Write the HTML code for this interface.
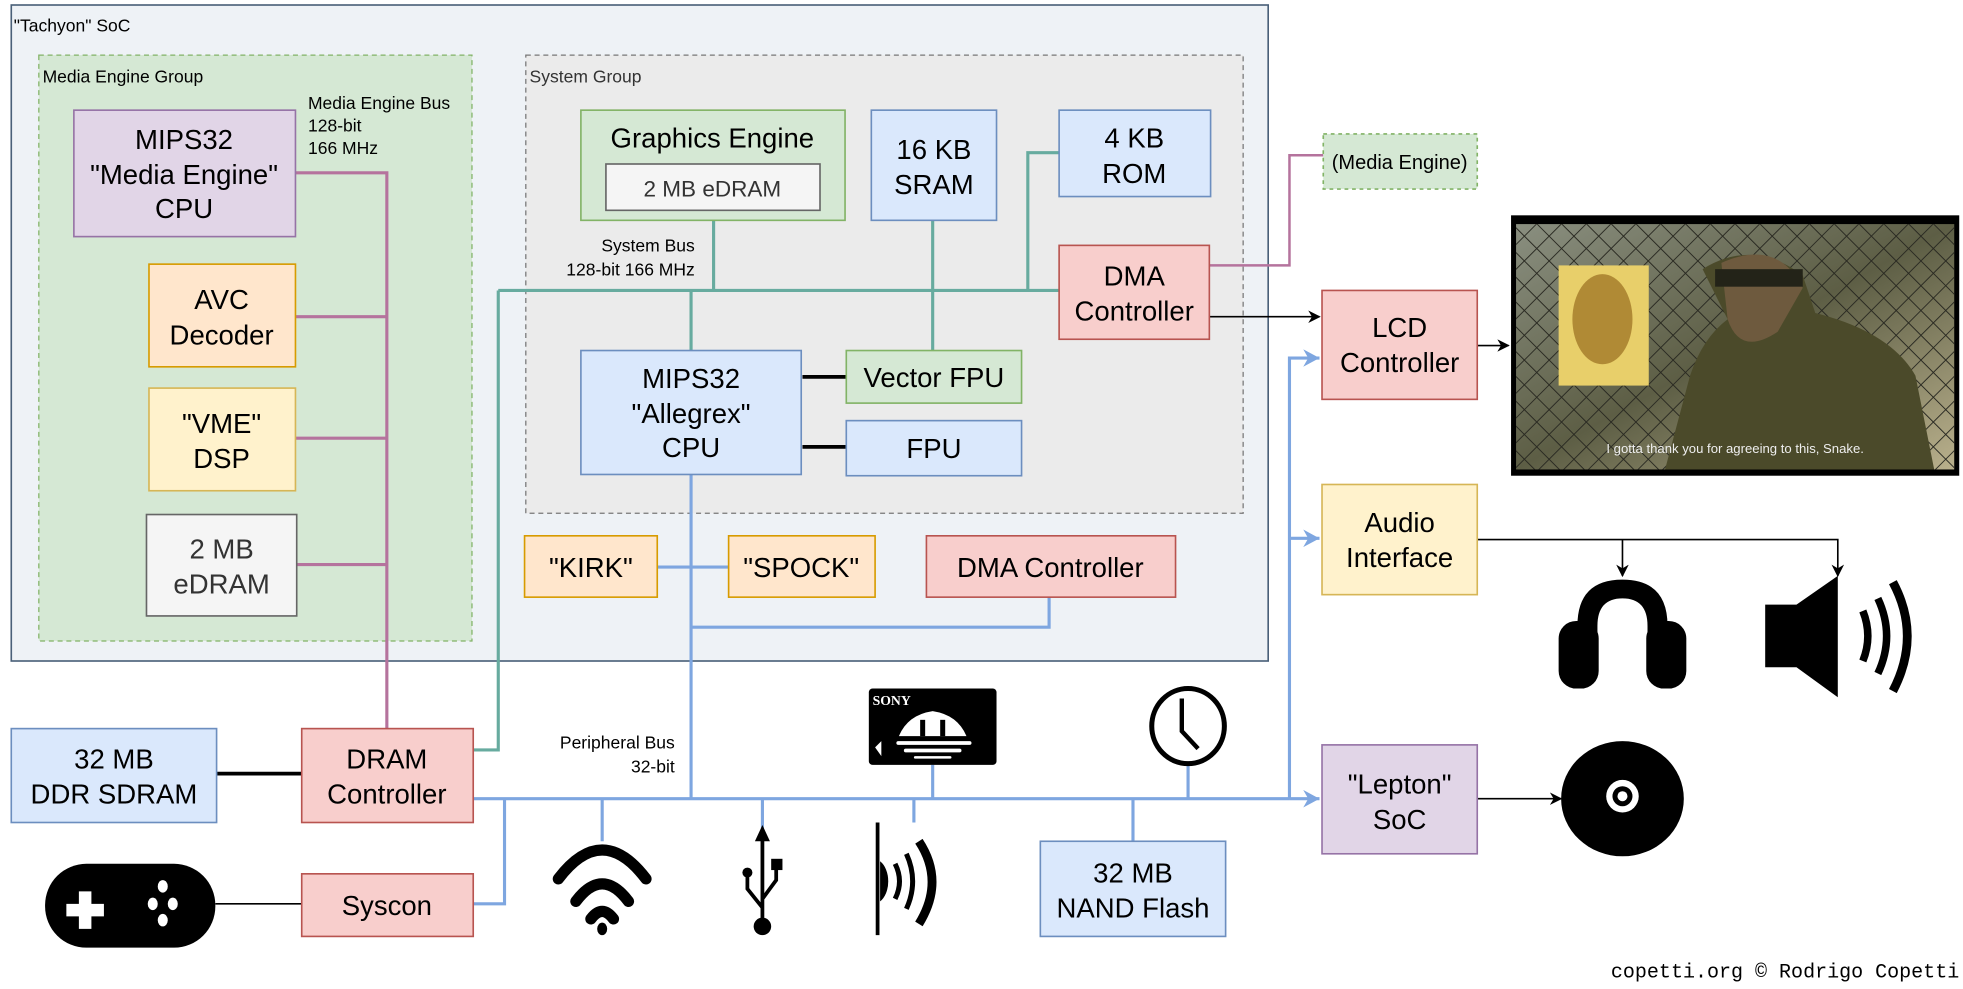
<!DOCTYPE html>
<html><head><meta charset="utf-8"><style>
html,body{margin:0;padding:0;background:#fff;width:1963px;height:989px;overflow:hidden}
svg{display:block}
text{font-family:"Liberation Sans",sans-serif;fill:#000}
.b{font-size:22px;text-anchor:middle}
.s{font-size:14px}
</style></head><body>
<svg width="1963" height="989" viewBox="0 0 1568 790" xmlns="http://www.w3.org/2000/svg">
<defs>
<marker id="ab" markerWidth="10" markerHeight="10" refX="9" refY="5" orient="auto" markerUnits="userSpaceOnUse"><path d="M0,0 L10,5 L0,10 L3,5Z" fill="#000"/></marker>
<marker id="abl" markerWidth="14" markerHeight="14" refX="13" refY="7" orient="auto" markerUnits="userSpaceOnUse"><path d="M0,0 L13,7 L0,14 L4,7Z" fill="#7ea6e0"/></marker>
<linearGradient id="scr" x1="0" y1="0" x2="1" y2="1"><stop offset="0" stop-color="#8a8f80"/><stop offset="0.5" stop-color="#5d5e45"/><stop offset="1" stop-color="#b9b08c"/></linearGradient>
<pattern id="fence" width="14" height="14" patternUnits="userSpaceOnUse" patternTransform="rotate(45)"><rect width="14" height="14" fill="none"/><path d="M0,0 H14 M0,0 V14" stroke="#2a2a22" stroke-width="1.5"/></pattern>
</defs>

<rect x="9" y="4" width="1004" height="524" fill="#eef2f6" stroke="#4a6079" stroke-width="1.3"/>
<text x="11" y="25" class="s">"Tachyon" SoC</text>

<rect x="31" y="44" width="346" height="468" fill="#d5e8d4" stroke="#82b366" stroke-dasharray="4 3"/>
<text x="34" y="66" class="s">Media Engine Group</text>
<rect x="420" y="44" width="573" height="366" fill="#ebebeb" stroke="#777" stroke-dasharray="4 3"/>
<text x="423" y="66" class="s" style="fill:#333">System Group</text>

<g stroke="#b5739d" stroke-width="2.5" fill="none">
<path d="M236,138 H309 V582"/>
<path d="M236,253 H309 M236,350 H309 M237,451 H309"/>
<path d="M966,212 H1030 V124 H1057" stroke-width="2"/>
</g>
<text x="246" y="87" class="s">Media Engine Bus</text>
<text x="246" y="105" class="s">128-bit</text>
<text x="246" y="123" class="s">166 MHz</text>

<g stroke="#67ab9f" stroke-width="2.5" fill="none">
<path d="M398,232 H846"/>
<path d="M570,176 V232 M745,176 V280 M552,232 V280 M821,232 V122 H846"/>
<path d="M398,232 V599 H378"/>
</g>
<text x="555" y="201" class="s" text-anchor="end">System Bus</text>
<text x="555" y="220" class="s" text-anchor="end">128-bit 166 MHz</text>

<g stroke="#7ea6e0" stroke-width="2.5" fill="none">
<path d="M525,453 H582"/>
<path d="M552,379 V638"/>
<path d="M838,477 V501 H552"/>
<path d="M378,638 H1030"/>
<path d="M1030,638 H1054" marker-end="url(#abl)"/>
<path d="M1030,638 V286 H1054" marker-end="url(#abl)"/>
<path d="M1030,430 H1054" marker-end="url(#abl)"/>
<path d="M403,638 V722 H378"/>
<path d="M481,638 V672 M609,638 V663 M730,638 V657 M745,611 V638 M949,610 V638 M905,638 V672"/>
</g>
<text x="539" y="598" class="s" text-anchor="end">Peripheral Bus</text>
<text x="539" y="617" class="s" text-anchor="end">32-bit</text>

<g stroke="#000" fill="none">
<path d="M641,301 H676 M641,357 H676 M173,618 H241" stroke-width="3"/>
<path d="M172,722 H241" stroke-width="1.3"/>
<path d="M966,253 H1054" stroke-width="1.3" marker-end="url(#ab)"/>
<path d="M1180,276 H1205" stroke-width="1.3" marker-end="url(#ab)"/>
<path d="M1180,638 H1247" stroke-width="1.3" marker-end="url(#ab)"/>
<path d="M1180,431 H1468 V460" stroke-width="1.3" marker-end="url(#ab)"/>
<path d="M1296,431 V460" stroke-width="1.3" marker-end="url(#ab)"/>
</g>

<g stroke-width="1.3">
<rect x="59" y="88" width="177" height="101" fill="#e1d5e7" stroke="#9673a6"/>
<rect x="119" y="211" width="117" height="82" fill="#ffe6cc" stroke="#d79b00"/>
<rect x="119" y="310" width="117" height="82" fill="#fff2cc" stroke="#d6b656"/>
<rect x="117" y="411" width="120" height="81" fill="#f5f5f5" stroke="#666"/>
<rect x="464" y="88" width="211" height="88" fill="#d5e8d4" stroke="#82b366"/>
<rect x="484" y="131" width="171" height="37" fill="#f5f5f5" stroke="#666"/>
<rect x="696" y="88" width="100" height="88" fill="#dae8fc" stroke="#6c8ebf"/>
<rect x="846" y="88" width="121" height="69" fill="#dae8fc" stroke="#6c8ebf"/>
<rect x="846" y="196" width="120" height="75" fill="#f8cecc" stroke="#b85450"/>
<rect x="676" y="280" width="140" height="42" fill="#d5e8d4" stroke="#82b366"/>
<rect x="676" y="336" width="140" height="44" fill="#dae8fc" stroke="#6c8ebf"/>
<rect x="464" y="280" width="176" height="99" fill="#dae8fc" stroke="#6c8ebf"/>
<rect x="419" y="428" width="106" height="49" fill="#ffe6cc" stroke="#d79b00"/>
<rect x="582" y="428" width="117" height="49" fill="#ffe6cc" stroke="#d79b00"/>
<rect x="740" y="428" width="199" height="49" fill="#f8cecc" stroke="#b85450"/>
<rect x="9" y="582" width="164" height="75" fill="#dae8fc" stroke="#6c8ebf"/>
<rect x="241" y="582" width="137" height="75" fill="#f8cecc" stroke="#b85450"/>
<rect x="241" y="698" width="137" height="50" fill="#f8cecc" stroke="#b85450"/>
<rect x="831" y="672" width="148" height="76" fill="#dae8fc" stroke="#6c8ebf"/>
<rect x="1057" y="107" width="123" height="44" fill="#d5e8d4" stroke="#82b366" stroke-dasharray="3 3"/>
<rect x="1056" y="232" width="124" height="87" fill="#f8cecc" stroke="#b85450"/>
<rect x="1056" y="387" width="124" height="88" fill="#fff2cc" stroke="#d6b656"/>
<rect x="1056" y="595" width="124" height="87" fill="#e1d5e7" stroke="#9673a6"/>
</g>

<text class="b" x="147" y="119">MIPS32</text>
<text class="b" x="147" y="147">"Media Engine"</text>
<text class="b" x="147" y="174">CPU</text>
<text class="b" x="177" y="247">AVC</text>
<text class="b" x="177" y="275">Decoder</text>
<text class="b" x="177" y="346">"VME"</text>
<text class="b" x="177" y="374">DSP</text>
<text class="b" x="177" y="446" style="fill:#333">2 MB</text>
<text class="b" x="177" y="474" style="fill:#333">eDRAM</text>
<text class="b" x="569" y="118">Graphics Engine</text>
<text class="b" x="569" y="157" style="font-size:18px;fill:#333">2 MB eDRAM</text>
<text class="b" x="746" y="127">16 KB</text>
<text class="b" x="746" y="155">SRAM</text>
<text class="b" x="906" y="118">4 KB</text>
<text class="b" x="906" y="146">ROM</text>
<text class="b" x="906" y="228">DMA</text>
<text class="b" x="906" y="256">Controller</text>
<text class="b" x="746" y="309">Vector FPU</text>
<text class="b" x="746" y="366">FPU</text>
<text class="b" x="552" y="310">MIPS32</text>
<text class="b" x="552" y="338">"Allegrex"</text>
<text class="b" x="552" y="365">CPU</text>
<text class="b" x="472" y="461">"KIRK"</text>
<text class="b" x="640" y="461">"SPOCK"</text>
<text class="b" x="839" y="461">DMA Controller</text>
<text class="b" x="91" y="614">32 MB</text>
<text class="b" x="91" y="642">DDR SDRAM</text>
<text class="b" x="309" y="614">DRAM</text>
<text class="b" x="309" y="642">Controller</text>
<text class="b" x="309" y="731">Syscon</text>
<text class="b" x="905" y="705">32 MB</text>
<text class="b" x="905" y="733">NAND Flash</text>
<text x="1118" y="135" style="font-size:16px;text-anchor:middle">(Media Engine)</text>
<text class="b" x="1118" y="269">LCD</text>
<text class="b" x="1118" y="297">Controller</text>
<text class="b" x="1118" y="425">Audio</text>
<text class="b" x="1118" y="453">Interface</text>
<text class="b" x="1118" y="634">"Lepton"</text>
<text class="b" x="1118" y="662">SoC</text>

<!-- screen -->
<rect x="1207" y="172" width="358" height="208" fill="#000"/>
<rect x="1211" y="179" width="350" height="196" fill="url(#scr)"/>
<rect x="1211" y="179" width="350" height="196" fill="url(#fence)"/>
<path d="M1360,215 Q1400,190 1440,220 L1450,250 Q1510,265 1530,300 L1545,375 H1330 L1350,300 Q1360,270 1380,255 Z" fill="#4b4a2a"/>
<path d="M1375,210 Q1420,190 1440,230 L1420,265 Q1390,285 1380,255 Z" fill="#6e5a3e"/>
<rect x="1370" y="215" width="70" height="14" fill="#232318"/>
<rect x="1245" y="212" width="72" height="96" fill="#e8cf6a"/>
<ellipse cx="1280" cy="255" rx="24" ry="36" fill="#b08a35"/>
<text x="1386" y="362" style="font-size:10.5px;fill:#eee;text-anchor:middle">I gotta thank you for agreeing to this, Snake.</text>

<!-- gamepad -->
<rect x="36" y="690" width="136" height="67" rx="33" fill="#000"/>
<path d="M63,712 h10 v10 h10 v10 h-10 v10 h-10 v-10 h-10 v-10 h10z" fill="#fff"/>
<ellipse cx="130" cy="708" rx="4" ry="5" fill="#fff"/><ellipse cx="130" cy="735" rx="4" ry="5" fill="#fff"/>
<ellipse cx="122" cy="722" rx="4" ry="5" fill="#fff"/><ellipse cx="138" cy="722" rx="4" ry="5" fill="#fff"/>

<!-- wifi -->
<g fill="none" stroke="#000" stroke-width="9" stroke-linecap="round">
<path d="M446,702 Q481,656 516,702"/>
<path d="M460,720 Q481,692 502,720"/>
<path d="M472,734 Q481,722 490,734"/>
</g>
<ellipse cx="481" cy="742" rx="4" ry="5" fill="#000"/>

<!-- usb -->
<g stroke="#000" stroke-width="3" fill="none">
<path d="M609,667 V738 M609,725 L597,710 V700 M609,718 L620,703 V693"/>
</g>
<path d="M603,672 L609,659 L615,672Z" fill="#000"/>
<rect x="616" y="686" width="9" height="9" fill="#000"/>
<circle cx="597" cy="697" r="4" fill="#000"/>
<circle cx="609" cy="740" r="7" fill="#000"/>

<!-- nfc-like -->
<path d="M701,657 V747" stroke="#000" stroke-width="3"/>
<path d="M703,688 A12,18 0 0 1 703,720 Z" fill="#000"/>
<g fill="none" stroke="#000" stroke-width="4">
<path d="M715,690 Q722,704 715,718"/>
<path d="M724,682 Q734,704 724,726"/>
</g>
<path d="M734,672 Q755,704 734,738" fill="none" stroke="#000" stroke-width="7"/>

<!-- memory stick -->
<rect x="694" y="550" width="102" height="61" rx="3" fill="#000"/>
<text x="697" y="563" style="font-size:11px;font-weight:bold;font-family:'Liberation Serif',serif;fill:#fff">SONY</text>
<path d="M718,588 Q725,571 745,568 Q765,571 772,588 Z" fill="#fff"/>
<rect x="735" y="575" width="4" height="13" fill="#000"/><rect x="751" y="575" width="4" height="13" fill="#000"/>
<rect x="716" y="592" width="60" height="3" rx="1.5" fill="#fff"/>
<rect x="722" y="598" width="46" height="3" rx="1.5" fill="#fff"/>
<rect x="730" y="604" width="30" height="2" rx="1" fill="#fff"/>
<path d="M704,592 L699,597 L704,604Z" fill="#fff"/>

<!-- clock -->
<ellipse cx="949" cy="580" rx="29" ry="30" fill="#fff" stroke="#000" stroke-width="4"/>
<path d="M944,558 V584 L957,598" fill="none" stroke="#000" stroke-width="3.5"/>

<!-- headphones -->
<path d="M1260,505 L1260,500 Q1260,463 1296,463 Q1332,463 1332,500 L1332,505 L1316,505 L1316,500 Q1316,478 1296,478 Q1276,478 1276,500 L1276,505Z" fill="#000"/>
<rect x="1245" y="496" width="32" height="54" rx="14" fill="#000"/>
<rect x="1315" y="496" width="32" height="54" rx="14" fill="#000"/>

<!-- speaker -->
<path d="M1410,483 H1435 L1468,460 V557 L1435,533 H1410Z" fill="#000"/>
<g fill="none" stroke="#000" stroke-width="6">
<path d="M1488,488 Q1496,508 1488,528"/>
<path d="M1500,478 Q1514,508 1500,538"/>
</g>
<path d="M1512,465 Q1535,508 1512,552" fill="none" stroke="#000" stroke-width="7"/>

<!-- CD -->
<ellipse cx="1296" cy="638" rx="49" ry="46" fill="#000"/>
<circle cx="1296" cy="636" r="13" fill="#fff"/>
<circle cx="1296" cy="636" r="8" fill="#000"/>
<circle cx="1296" cy="636" r="4" fill="#fff"/>

<text x="1565" y="781" style="font-family:'Liberation Mono',monospace;font-size:16px;text-anchor:end">copetti.org © Rodrigo Copetti</text>
</svg>
</body></html>
